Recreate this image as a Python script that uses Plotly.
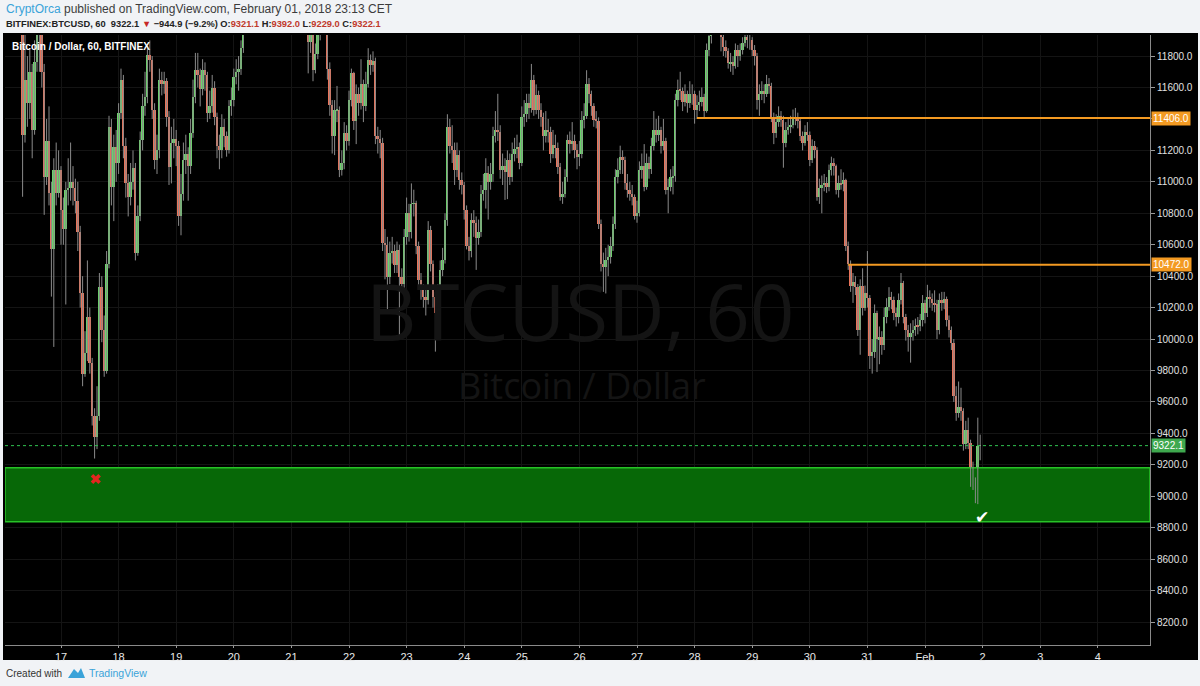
import pandas as pd
import plotly.graph_objects as go

# --- hourly BTCUSD (Bitfinex), 16 Jan 00:00 -> 1 Feb 23:00 ---
first_open = 13700

close = [
    # Jan 16
    13600, 13450, 13300, 13150, 12950, 12750, 12500, 12200, 11300, 11650, 11500, 11700,
    11330, 11760, 12000, 12050, 11700, 11030, 11260, 10930, 10570, 11075, 10930, 11075,
    # Jan 17
    10820, 10700, 10950, 10960, 11000, 10960, 10880, 10680, 10290, 9780, 9910, 10140,
    9850, 9510, 9380, 9510, 10330, 10060, 9800, 10480, 11350, 10970, 11220, 11120,
    # Jan 18
    11435, 11650, 11230, 10990, 10905, 11000, 11090, 10545, 10780, 11265, 11480, 11540,
    11805, 11775, 11455, 11140, 11200, 11650, 11620, 11640, 11415, 11095, 11250, 11270,
    # Jan 19
    11230, 10780, 10925, 11140, 11180, 11100, 11310, 11540, 11710, 11680, 11590, 11710,
    11680, 11435, 11480, 11600, 11415, 11225, 11200, 11350, 11290, 11200, 11480, 11520,
    # Jan 20
    11670, 11700, 11720, 11850, 12050, 12150, 12250, 12300, 12400, 12550, 12600, 12500,
    12700, 12800, 12750, 12900, 12850, 12950, 12800, 12900, 12950, 12850, 12700, 12750,
    # Jan 21
    12600, 12450, 12400, 12250, 12300, 12150, 12050, 11890, 11950, 11710, 11815, 11945,
    12050, 12100, 12050, 11720, 11490, 11290, 11455, 11460, 11075, 11120, 11310, 11260,
    # Jan 22
    11520, 11690, 11390, 11560, 11500, 11625, 11480, 11625, 11775, 11745, 11770, 11290,
    11270, 11250, 10610, 10600, 10395, 10545, 10560, 10470, 10565, 10395, 10350, 10650,
    # Jan 23
    10800, 10680, 10860, 10865, 10590, 10375, 10310, 10270, 10250, 10695, 10480, 10270,
    10165, 10290, 10440, 10500, 10755, 11350, 11225, 11200, 11075, 11170, 11010, 10980,
    # Jan 24
    10820, 10590, 10560, 10755, 10740, 10640, 10680, 10925, 10950, 11055, 11000, 11050,
    11290, 11330, 11320, 11075, 11100, 11060, 11140, 11030, 11180, 11210, 11220, 11120,
    # Jan 25
    11415, 11430, 11500, 11470, 11650, 11460, 11550, 11460, 11415, 11290, 11330, 11320,
    11180, 11235, 11215, 11095, 10905, 10920, 11030, 11265, 11240, 11260, 11200, 11160,
    # Jan 26
    11175, 11395, 11420, 11625, 11560, 11480, 11395, 11390, 10735, 10480, 10460, 10500,
    10520, 10590, 10735, 11030, 11075, 11160, 11140, 10990, 10950, 10920, 10905, 10780,
    # Jan 27
    10800, 11075, 11100, 10970, 11120, 11080, 11225, 11330, 11300, 11330, 11225, 11260,
    10950, 10970, 11030, 11040, 11520, 11585, 11580, 11510, 11560, 11500, 11560, 11560,
    # Jan 28
    11460, 11490, 11510, 11540, 11450, 11840, 11925, 11990, 12020, 12050, 12000, 11920,
    11860, 11830, 11755, 11760, 11740, 11840, 11800, 11840, 11880, 11920, 11900, 11900,
    # Jan 29
    11840, 11800, 11520, 11560, 11580, 11560, 11625, 11610, 11415, 11310, 11380, 11420,
    11395, 11245, 11330, 11350, 11360, 11415, 11400, 11390, 11290, 11250, 11320, 11300,
    # Jan 30
    11140, 11225, 11200, 10905, 10960, 10980, 10990, 10970, 11075, 11120, 11100, 10950,
    10990, 10985, 11010, 10590, 10480, 10335, 10360, 10330, 10060, 10335, 10200, 10290,
    # Jan 31
    10260, 9890, 9920, 10165, 10000, 10010, 9960, 10140, 10205, 10270, 10250, 10165,
    10140, 10250, 10355, 10140, 10060, 10015, 10040, 10060, 10085, 10080, 10120, 10230,
    # Feb 1
    10165, 10270, 10255, 10230, 10220, 10058, 10250, 10230, 10255, 10120, 10060, 9975,
    9635, 9530, 9570, 9545, 9335, 9420, 9340, 9105, 9085, 9020, 9321.1, 9322.1,
]

high = [
    13750, 13650, 13500, 13350, 13200, 13000, 12800, 12550, 12300, 11950, 11800, 11850,
    11750, 11900, 12150, 12200, 12100, 11750, 11400, 11480, 11000, 11150, 11250, 11200,
    11100, 10900, 11000, 11150, 11250, 11100, 11020, 11000, 10720, 10400, 10050, 10500,
    10200, 9880, 9560, 9700, 10420, 10400, 10150, 10560, 11420, 11400, 11300, 11330,
    11500, 11720, 11680, 11280, 11050, 11120, 11200, 11120, 10850, 11320, 11560, 11700,
    11850, 11900, 11800, 11500, 11300, 11720, 11700, 11700, 11660, 11450, 11350, 11400,
    11330, 11260, 11050, 11250, 11300, 11220, 11400, 11650, 11820, 11820, 11720, 11780,
    11760, 11700, 11580, 11680, 11640, 11440, 11300, 11430, 11400, 11320, 11520, 11600,
    11720, 11780, 11800, 11900, 12150, 12250, 12350, 12400, 12500, 12650, 12750, 12700,
    12800, 12900, 12900, 13000, 13000, 13050, 13000, 13000, 13050, 13000, 12900, 12850,
    12800, 12650, 12550, 12450, 12400, 12350, 12200, 12100, 12050, 11980, 11880, 12020,
    12150, 12200, 12150, 12080, 11760, 11520, 11520, 11610, 11480, 11200, 11380, 11360,
    11580, 11720, 11700, 11620, 11600, 11780, 11650, 11700, 11850, 11810, 11830, 11790,
    11350, 11330, 11280, 10700, 10650, 10620, 10650, 10600, 10620, 10600, 10450, 10700,
    10900, 10860, 10990, 10950, 10880, 10620, 10420, 10350, 10330, 10750, 10720, 10500,
    10300, 10350, 10500, 10580, 10800, 11430, 11400, 11360, 11250, 11250, 11200, 11060,
    11000, 10850, 10650, 10800, 10820, 10780, 10760, 10980, 11050, 11150, 11100, 11120,
    11350, 11450, 11560, 11360, 11180, 11150, 11200, 11180, 11250, 11280, 11300, 11250,
    11480, 11520, 11560, 11560, 11750, 11680, 11620, 11580, 11500, 11440, 11450, 11400,
    11350, 11330, 11300, 11250, 11120, 11000, 11080, 11300, 11320, 11380, 11300, 11240,
    11260, 11450, 11500, 11710, 11660, 11580, 11500, 11450, 11410, 10760, 10550, 10580,
    10600, 10650, 10780, 11080, 11150, 11230, 11200, 11160, 11050, 11000, 10980, 10920,
    10880, 11130, 11180, 11240, 11180, 11160, 11280, 11450, 11400, 11420, 11350, 11400,
    11280, 11020, 11080, 11100, 11560, 11650, 11700, 11600, 11620, 11580, 11640, 11620,
    11580, 11550, 11580, 11600, 11560, 11880, 11980, 12060, 12100, 12120, 12080, 12020,
    11950, 11900, 11850, 11820, 11800, 11880, 11870, 11880, 11920, 11970, 11960, 11950,
    11920, 11870, 11820, 11620, 11640, 11620, 11680, 11660, 11630, 11440, 11430, 11480,
    11450, 11420, 11380, 11400, 11420, 11460, 11470, 11440, 11400, 11320, 11360, 11380,
    11320, 11270, 11260, 11220, 11020, 11040, 11050, 11030, 11110, 11160, 11150, 11110,
    11040, 11080, 11060, 11020, 10620, 10500, 10420, 10400, 10350, 10380, 10450, 10340,
    10560, 10280, 10000, 10220, 10180, 10080, 10050, 10200, 10260, 10330, 10300, 10270,
    10200, 10290, 10420, 10370, 10160, 10090, 10100, 10120, 10130, 10140, 10160, 10280,
    10250, 10345, 10310, 10290, 10310, 10250, 10290, 10300, 10300, 10270, 10150, 10080,
    10000, 9700, 9730, 9690, 9560, 9480, 9500, 9360, 9220, 9120, 9500, 9392,
]

low = [
    13500, 13350, 13200, 13050, 12850, 12600, 12350, 12050, 10905, 11250, 11350, 11400,
    11150, 11300, 11700, 11700, 11600, 10790, 10980, 10850, 10270, 9950, 10850, 10900,
    10600, 10600, 10220, 10850, 10880, 10850, 10800, 10560, 10200, 9700, 9760, 9860,
    9780, 9450, 9240, 9300, 9480, 9980, 9760, 9780, 10450, 10850, 10750, 11000,
    11050, 11400, 11150, 10900, 10780, 10850, 10950, 10500, 10530, 10750, 11200, 11420,
    11500, 11700, 11400, 11080, 11050, 11150, 11550, 11560, 11350, 10980, 10990, 11150,
    11100, 10720, 10660, 10880, 11050, 10880, 11050, 11280, 11500, 11600, 11480, 11550,
    11580, 11380, 11400, 11440, 11360, 11150, 11080, 11150, 11220, 11160, 11180, 11420,
    11480, 11620, 11580, 11680, 11820, 12000, 12100, 12150, 12250, 12350, 12450, 12400,
    12450, 12600, 12600, 12700, 12700, 12750, 12700, 12700, 12800, 12750, 12600, 12600,
    12500, 12350, 12300, 12150, 12100, 12050, 11960, 11690, 11820, 11640, 11690, 11780,
    11900, 11980, 11950, 11650, 11420, 11180, 11170, 11380, 11030, 11040, 11080, 11200,
    11230, 11480, 11330, 11240, 11420, 11460, 11380, 11450, 11600, 11680, 11700, 11240,
    11180, 11150, 10560, 10380, 10180, 10350, 10480, 10420, 10420, 10020, 10300, 10300,
    10600, 10620, 10640, 10780, 10540, 10320, 10250, 10200, 10150, 10220, 10430, 10200,
    9920, 10100, 10250, 10400, 10480, 10720, 11180, 11120, 10980, 11030, 10950, 10920,
    10760, 10570, 10500, 10520, 10650, 10440, 10600, 10650, 10880, 10830, 10760, 10950,
    11000, 11250, 11260, 11020, 10980, 10885, 10890, 10980, 11000, 11130, 11150, 11080,
    11100, 11350, 11380, 11400, 11440, 11420, 11430, 11400, 11350, 11200, 11250, 11250,
    11120, 11150, 11150, 11050, 10880, 10860, 10900, 11000, 11180, 11200, 11150, 11080,
    11100, 11150, 11340, 11400, 11500, 11420, 11350, 11340, 10700, 10430, 10300, 10290,
    10400, 10480, 10560, 10700, 10990, 11050, 11050, 10950, 10900, 10880, 10850, 10760,
    10740, 10780, 11020, 10940, 10950, 11020, 11050, 11200, 11250, 11260, 11180, 11200,
    10920, 10800, 10940, 10920, 11000, 11480, 11520, 11450, 11480, 11440, 11470, 11490,
    11370, 11400, 11450, 11480, 11410, 11440, 11800, 11880, 11940, 11950, 11940, 11830,
    11800, 11790, 11720, 11700, 11680, 11720, 11730, 11770, 11810, 11860, 11850, 11840,
    11800, 11740, 11460, 11420, 11520, 11500, 11540, 11560, 11380, 11240, 11280, 11350,
    11350, 11090, 11220, 11300, 11310, 11340, 11360, 11340, 11260, 11200, 11230, 11260,
    11100, 11120, 11150, 10880, 10860, 10800, 10940, 10930, 10940, 11040, 11040, 10920,
    10900, 10950, 10940, 10560, 10440, 10300, 10230, 10280, 10020, 9900, 10150, 10180,
    10200, 9810, 9780, 9880, 9790, 9840, 9900, 9930, 10100, 10180, 10190, 10120,
    10080, 10100, 10220, 10100, 9990, 9920, 9850, 9990, 10020, 10030, 10050, 10080,
    10100, 10140, 10200, 10180, 10170, 10000, 10030, 10180, 10190, 10080, 10010, 9930,
    9600, 9480, 9500, 9480, 9290, 9300, 9300, 9060, 9040, 8956, 8950, 9229,
]

day_ticks = ["2018-01-%02d" % d for d in range(17, 32)] + ["2018-02-01", "2018-02-02", "2018-02-03", "2018-02-04"]
day_labels = [str(d) for d in range(17, 32)] + ["Feb", "2", "3", "4"]
price_ticks = list(range(8200, 11801, 200))
# 11400 label is hidden behind the 11406 level tag in the original
price_labels = ["" if p == 11400 else "%.1f" % p for p in price_ticks]

levels = [11406.0, 10472.0]
level_from = ["2018-01-28 01:00", "2018-01-30 16:00"]
last_price = 9322.1
zone = [8838, 9181]
miss_x, miss_y = ["2018-01-17 14:30"], [9110]
hit_x, hit_y = ["2018-02-01 23:50"], [8857]

X_RANGE = ["2018-01-16 00:40", "2018-02-04 21:45"]
Y_RANGE = [8054, 11934]

UP, DOWN, WICK = "#6ad46a", "#e8735a", "#8a8a8a"
ORANGE, GREEN = "#f39a22", "#3ea84e"

# pixel -> paper helpers (plot area is x 5..1150, y 35..645)
def px(x):
    return (x - 5) / 1145.0

def py(y):
    return (645 - y) / 610.0


t = pd.date_range("2018-01-16 00:00", periods=len(close), freq="h")
opn = [first_open] + close[:-1]

fig = go.Figure()

# support zone, drawn first so candles sit on top
fig.add_trace(go.Scatter(
    x=[X_RANGE[0], X_RANGE[1], X_RANGE[1], X_RANGE[0], X_RANGE[0]],
    y=[zone[0], zone[0], zone[1], zone[1], zone[0]],
    mode="lines", fill="toself", fillcolor="#076807",
    line=dict(color="#27c227", width=1.5), hoverinfo="skip"))

# wicks
wx, wy = [], []
for ti, lo, hi in zip(t, low, high):
    wx += [ti, ti, None]
    wy += [lo, hi, None]
fig.add_trace(go.Scatter(x=wx, y=wy, mode="lines", line=dict(color=WICK, width=1),
                         hoverinfo="skip"))

# bodies
fig.add_trace(go.Bar(
    x=t, y=[abs(c - o) for o, c in zip(opn, close)],
    base=[min(o, c) for o, c in zip(opn, close)],
    width=0.8 * 3600 * 1000,
    marker=dict(color=[UP if c >= o else DOWN for o, c in zip(opn, close)], line_width=0),
))

# markers
fig.add_trace(go.Scatter(x=miss_x, y=miss_y, mode="markers",
                         marker=dict(symbol="x", size=9, color="#e3261f", line_width=0)))
fig.add_trace(go.Scatter(x=hit_x, y=hit_y, mode="text", text=["✔"],
                         textfont=dict(color="white", size=17, family="DejaVu Sans")))

shapes = [
    # black chart frame incl. axis bands
    dict(type="rect", xref="paper", yref="paper", x0=px(3), x1=px(1198), y0=py(660), y1=py(33),
         fillcolor="black", line_width=0, layer="below"),
    # last price dotted line
    dict(type="line", xref="paper", yref="y", x0=0, x1=1, y0=last_price, y1=last_price,
         line=dict(color="#2fc24f", width=1, dash="dot")),
]
for lv, x0 in zip(levels, level_from):
    shapes.append(dict(type="line", xref="x", yref="y", x0=x0, x1=X_RANGE[1], y0=lv, y1=lv,
                       line=dict(color=ORANGE, width=2)))

annotations = [
    dict(text="BTCUSD, 60", xref="paper", yref="paper", x=px(580), y=py(311), showarrow=False,
         font=dict(size=78, color="#141414", family="Open Sans")),
    dict(text="Bitcoin / Dollar", xref="paper", yref="paper", x=px(582), y=py(385), showarrow=False,
         font=dict(size=36, color="#141414", family="Open Sans")),
    dict(text="<b>Bitcoin / Dollar, 60, BITFINEX</b>", xref="paper", yref="paper", x=px(10), y=py(46),
         xanchor="left", yanchor="middle", showarrow=False,
         font=dict(size=10, color="white", family="Liberation Sans")),
    dict(text="<span style='color:#3aa3d9'>CryptOrca</span> published on TradingView.com, February 01, 2018 23:13 CET",
         xref="paper", yref="paper", x=px(4), y=py(9), xanchor="left", yanchor="middle", showarrow=False,
         font=dict(size=12, color="#3c3c3c", family="Liberation Sans")),
    dict(text="<b>BITFINEX:BTCUSD, 60  9322.1 <span style='color:#c62828'>▼</span> −944.9 (−9.2%) "
              "O:<span style='color:#c0392b'>9321.1</span> H:<span style='color:#c0392b'>9392.0</span> "
              "L:<span style='color:#c0392b'>9229.0</span> C:<span style='color:#c0392b'>9322.1</span></b>",
         xref="paper", yref="paper", x=px(4), y=py(24), xanchor="left", yanchor="middle", showarrow=False,
         font=dict(size=9.3, color="#222222", family="Liberation Sans")),
    dict(text="Created with", xref="paper", yref="paper", x=px(4), y=py(673), xanchor="left",
         yanchor="middle", showarrow=False, font=dict(size=10, color="#333333", family="Liberation Sans")),
    dict(text="TradingView", xref="paper", yref="paper", x=px(87), y=py(673), xanchor="left",
         yanchor="middle", showarrow=False, font=dict(size=10.5, color="#3aa3d9", family="Liberation Sans")),
]
for lv in levels:
    annotations.append(dict(text="%.1f" % lv, xref="paper", yref="y", x=1, y=lv, xanchor="left",
                            yanchor="middle", xshift=1, showarrow=False, bgcolor=ORANGE, borderpad=1,
                            font=dict(size=10, color="white", family="Liberation Sans")))
annotations.append(dict(text="%.1f" % last_price, xref="paper", yref="y", x=1, y=last_price,
                        xanchor="left", yanchor="middle", xshift=1, showarrow=False, bgcolor=GREEN,
                        borderpad=1, font=dict(size=10, color="white", family="Liberation Sans")))

# TradingView logo (small cloud)
logo = "M {0},{1} L {2},{3} L {4},{5} L {6},{7} L {8},{9} Z".format(
    px(68), py(678), px(74), py(669), px(78), py(673), px(81), py(668), px(85), py(678))
shapes.append(dict(type="path", xref="paper", yref="paper", path=logo,
                   fillcolor="#3aa3d9", line_width=0))

fig.update_layout(
    width=1200, height=686,
    margin=dict(l=5, r=50, t=35, b=41, autoexpand=False),
    paper_bgcolor="#f1f3f6", plot_bgcolor="black",
    showlegend=False, bargap=0,
    shapes=shapes, annotations=annotations,
    xaxis=dict(type="date", range=X_RANGE, tickvals=day_ticks, ticktext=day_labels,
               showgrid=True, gridcolor="#141414", gridwidth=1, zeroline=False, automargin=False,
               ticks="outside", ticklen=2, tickcolor="#9a9a9a",
               tickfont=dict(size=11, color="#e8e8e8", family="Liberation Sans"),
               showline=True, linecolor="#8a8a8a", linewidth=1),
    yaxis=dict(side="right", range=Y_RANGE, tickvals=price_ticks, ticktext=price_labels,
               showgrid=True, gridcolor="#141414", gridwidth=1, zeroline=False, automargin=False,
               ticks="outside", ticklen=4, tickcolor="#9a9a9a",
               tickfont=dict(size=10, color="#e0e0e0", family="Liberation Sans"),
               showline=True, linecolor="#8a8a8a", linewidth=1),
)

# page body has a default 8px margin; drop it so the figure fills the window
fig.write_html("out.html", config={"displayModeBar": False},
               post_script="document.body.style.margin='0px';")
